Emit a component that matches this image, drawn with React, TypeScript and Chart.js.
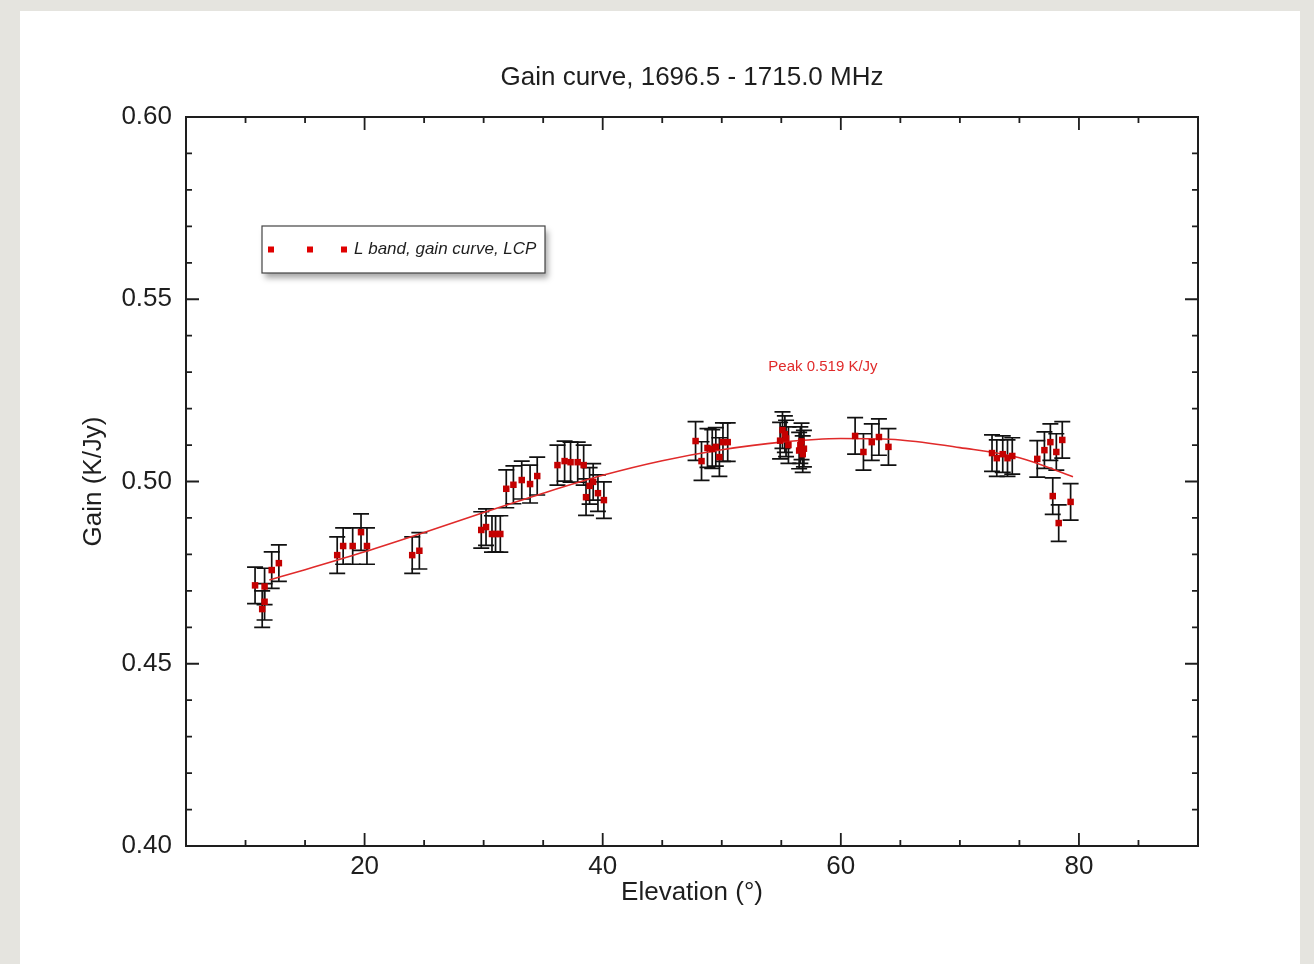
import { useEffect, useRef } from 'react';
import { Chart, registerables } from 'chart.js';

Chart.register(...registerables);

const titleText = 'Gain curve, 1696.5 - 1715.0 MHz';
const xAxisTitle = 'Elevation (°)';
const yAxisTitle = 'Gain (K/Jy)';
const legendLabel = 'L band, gain curve, LCP';
const peakLabel = 'Peak 0.519 K/Jy';
const peakLabelPos = [58.5, 0.5314];

const xLabelEvery = 20;
const yLabelEvery = 0.05;

const elevation = [
  10.8, 11.4, 11.6, 11.6, 12.2, 12.8,
  17.7, 18.2, 19.0, 19.7, 20.2,
  24.0, 24.6,
  29.8, 30.2, 30.7, 31.0, 31.4,
  31.9, 32.5, 33.2, 33.9, 34.5,
  36.2, 36.8, 37.3, 37.9, 38.4,
  38.6, 38.9, 39.2, 39.6, 40.1,
  47.8, 48.3, 48.8, 49.2, 49.5, 49.8, 50.1, 50.5,
  54.9, 55.1, 55.3, 55.4, 55.6, 56.5, 56.6, 56.7, 56.8, 56.9,
  61.2, 61.9, 62.6, 63.2, 64.0,
  72.7, 73.1, 73.6, 74.0, 74.4,
  76.5, 77.1, 77.6, 77.8, 78.1, 78.3, 78.6, 79.3,
];

const gain = [
  0.4715, 0.4650, 0.4670, 0.4712, 0.4757, 0.4776,
  0.4798, 0.4823, 0.4823, 0.4861, 0.4823,
  0.4798, 0.4810,
  0.4867, 0.4875, 0.4856, 0.4856, 0.4856,
  0.4980, 0.4991, 0.5004, 0.4993, 0.5015,
  0.5045, 0.5056, 0.5053, 0.5053, 0.5045,
  0.4957, 0.4988, 0.4999, 0.4968, 0.4949,
  0.5111, 0.5056, 0.5092, 0.5089, 0.5095, 0.5067, 0.5108, 0.5108,
  0.5112, 0.5141, 0.5130, 0.5118, 0.5100, 0.5085, 0.5100, 0.5110, 0.5075, 0.5090,
  0.5125, 0.5081, 0.5108, 0.5122, 0.5095,
  0.5078, 0.5064, 0.5075, 0.5064, 0.5070,
  0.5062, 0.5086, 0.5108, 0.4960, 0.5081, 0.4886, 0.5114, 0.4944,
];

const gainError = [
  0.0050, 0.0050, 0.0050, 0.0050, 0.0050, 0.0050,
  0.0050, 0.0050, 0.0050, 0.0050, 0.0050,
  0.0050, 0.0050,
  0.0050, 0.0050, 0.0050, 0.0050, 0.0050,
  0.0052, 0.0052, 0.0052, 0.0052, 0.0052,
  0.0055, 0.0055, 0.0055, 0.0055, 0.0055,
  0.0050, 0.0050, 0.0050, 0.0050, 0.0050,
  0.0053, 0.0053, 0.0053, 0.0053, 0.0053, 0.0053, 0.0053, 0.0053,
  0.0050, 0.0050, 0.0050, 0.0050, 0.0050, 0.0050, 0.0050, 0.0050, 0.0050, 0.0050,
  0.0050, 0.0050, 0.0050, 0.0050, 0.0050,
  0.0050, 0.0050, 0.0050, 0.0050, 0.0050,
  0.0050, 0.0050, 0.0050, 0.0050, 0.0050, 0.0050, 0.0050, 0.0050,
];

const fitElevation = [12, 15, 20, 25, 30, 35, 40, 45, 50, 55, 60, 65, 70, 75, 79.5];
const fitGain = [
  0.4730, 0.4758, 0.4807, 0.4860, 0.4915, 0.4968, 0.5017, 0.5057,
  0.5087, 0.5108, 0.5118, 0.5114, 0.5093, 0.5065, 0.5013,
];

const FONT = '"Liberation Sans", Arial, Helvetica, sans-serif';
const POINT_RED = '#c40000';
const LINE_RED = '#e02a2a';
const INK = '#1e1e1e';

const errorBarPlugin = {
  id: 'errorBars',
  beforeDatasetsDraw(chart: any) {
    const { ctx, scales } = chart;
    const xs = scales.x;
    const ys = scales.y;
    ctx.save();
    ctx.strokeStyle = '#111111';
    ctx.lineWidth = 1.7;
    const cap = 8;
    for (let i = 0; i < elevation.length; i++) {
      const px = xs.getPixelForValue(elevation[i]);
      const top = ys.getPixelForValue(gain[i] + gainError[i]);
      const bot = ys.getPixelForValue(gain[i] - gainError[i]);
      ctx.beginPath();
      ctx.moveTo(px, top);
      ctx.lineTo(px, bot);
      ctx.moveTo(px - cap, top);
      ctx.lineTo(px + cap, top);
      ctx.moveTo(px - cap, bot);
      ctx.lineTo(px + cap, bot);
      ctx.stroke();
    }
    ctx.restore();
  },
};

const framePlugin = {
  id: 'frameTicks',
  afterDraw(chart: any) {
    const { ctx, chartArea, scales } = chart;
    const { left, right, top, bottom } = chartArea;
    ctx.save();
    ctx.strokeStyle = INK;
    ctx.lineWidth = 2;
    ctx.strokeRect(left, top, right - left, bottom - top);
    ctx.lineWidth = 1.8;
    ctx.beginPath();
    for (const t of scales.x.ticks) {
      const px = scales.x.getPixelForValue(t.value);
      if (px <= left + 1 || px >= right - 1) continue;
      const major = Math.abs(Math.round(t.value / xLabelEvery) * xLabelEvery - t.value) < 1e-6;
      const len = major ? 13 : 6;
      ctx.moveTo(px, bottom);
      ctx.lineTo(px, bottom - len);
      ctx.moveTo(px, top);
      ctx.lineTo(px, top + len);
    }
    for (const t of scales.y.ticks) {
      const py = scales.y.getPixelForValue(t.value);
      if (py <= top + 1 || py >= bottom - 1) continue;
      const major = Math.abs(Math.round(t.value / yLabelEvery) * yLabelEvery - t.value) < 1e-6;
      const len = major ? 13 : 6;
      ctx.moveTo(left, py);
      ctx.lineTo(left + len, py);
      ctx.moveTo(right, py);
      ctx.lineTo(right - len, py);
    }
    ctx.stroke();

    // peak annotation
    ctx.fillStyle = LINE_RED;
    ctx.font = `15px ${FONT}`;
    ctx.textAlign = 'center';
    ctx.textBaseline = 'middle';
    ctx.fillText(
      peakLabel,
      scales.x.getPixelForValue(peakLabelPos[0]),
      scales.y.getPixelForValue(peakLabelPos[1])
    );

    // legend box
    const lx = left + 76;
    const ly = top + 109;
    const lw = 283;
    const lh = 47;
    ctx.save();
    ctx.shadowColor = 'rgba(0,0,0,0.35)';
    ctx.shadowBlur = 6;
    ctx.shadowOffsetX = 3;
    ctx.shadowOffsetY = 5;
    ctx.fillStyle = '#ffffff';
    ctx.fillRect(lx, ly, lw, lh);
    ctx.restore();
    ctx.strokeStyle = '#444';
    ctx.lineWidth = 1.2;
    ctx.strokeRect(lx, ly, lw, lh);
    ctx.fillStyle = '#e00000';
    const cy = ly + lh / 2;
    for (const dx of [9, 48, 82]) {
      ctx.fillRect(lx + dx - 3, cy - 3, 6, 6);
    }
    ctx.fillStyle = INK;
    ctx.font = `italic 17px ${FONT}`;
    ctx.textAlign = 'left';
    ctx.fillText(legendLabel, lx + 92, cy);
    ctx.restore();
  },
};

export default function App() {
  const canvasRef = useRef<HTMLCanvasElement | null>(null);

  useEffect(() => {
    const canvas = canvasRef.current;
    if (!canvas) return;
    const chart = new Chart(canvas, {
      type: 'scatter',
      data: {
        datasets: [
          {
            type: 'line',
            label: 'fit',
            data: fitElevation.map((x, i) => ({ x, y: fitGain[i] })),
            borderColor: LINE_RED,
            borderWidth: 1.6,
            pointRadius: 0,
            cubicInterpolationMode: 'monotone',
            fill: false,
            order: 2,
          } as any,
          {
            label: legendLabel,
            data: elevation.map((x, i) => ({ x, y: gain[i] })),
            pointStyle: 'rect',
            pointRadius: 4.6,
            backgroundColor: POINT_RED,
            borderColor: POINT_RED,
            borderWidth: 0,
            order: 1,
          },
        ],
      },
      options: {
        responsive: false,
        animation: false,
        layout: { padding: { left: 20, top: 20, right: 116, bottom: 55.4 } },
        plugins: {
          legend: { display: false },
          tooltip: { enabled: false },
          title: {
            display: true,
            fullSize: false,
            text: titleText,
            color: INK,
            font: { family: FONT, size: 26, weight: 'normal' },
            padding: { top: 42.4, bottom: 23.4 },
          },
        },
        scales: {
          x: {
            type: 'linear',
            min: 5,
            max: 90,
            grid: { display: false },
            border: { display: false },
            afterFit(scale: any) {
              scale.height = 62.6;
            },
            ticks: {
              stepSize: 5,
              padding: -3,
              color: INK,
              autoSkip: false,
              maxRotation: 0,
              font: { family: FONT, size: 26 },
              callback: (v: any) =>
                Math.abs(Math.round(v / xLabelEvery) * xLabelEvery - v) < 1e-6 &&
                v > 5 && v < 90
                  ? String(v)
                  : '',
            },
            title: {
              display: true,
              text: xAxisTitle,
              color: INK,
              font: { family: FONT, size: 26 },
              padding: { top: 0, bottom: 0 },
            },
          },
          y: {
            type: 'linear',
            min: 0.4,
            max: 0.6,
            grid: { display: false },
            border: { display: false },
            afterFit(scale: any) {
              scale.width = 166;
            },
            ticks: {
              stepSize: 0.01,
              padding: 6,
              color: INK,
              autoSkip: false,
              font: { family: FONT, size: 26 },
              callback: (v: any) => {
                const n = Math.round(v * 100);
                return n % Math.round(yLabelEvery * 100) === 0 ? (n / 100).toFixed(2) : '';
              },
            },
            title: {
              display: true,
              text: yAxisTitle,
              color: INK,
              font: { family: FONT, size: 26 },
              padding: { top: 58.4, bottom: 0 },
            },
          },
        },
      } as any,
      plugins: [errorBarPlugin, framePlugin],
    });
    return () => chart.destroy();
  }, []);

  return (
    <div
      style={{
        position: 'absolute',
        left: 0,
        top: 0,
        width: 1314,
        height: 964,
        background: '#e5e4df',
        overflow: 'hidden',
      }}
    >
      <div
        style={{
          position: 'absolute',
          left: 20,
          top: 11,
          right: 14,
          bottom: 0,
          background: '#ffffff',
        }}
      />
      <canvas
        ref={canvasRef}
        width={1314}
        height={964}
        style={{ position: 'absolute', left: 0, top: 0, width: 1314, height: 964 }}
      />
    </div>
  );
}
